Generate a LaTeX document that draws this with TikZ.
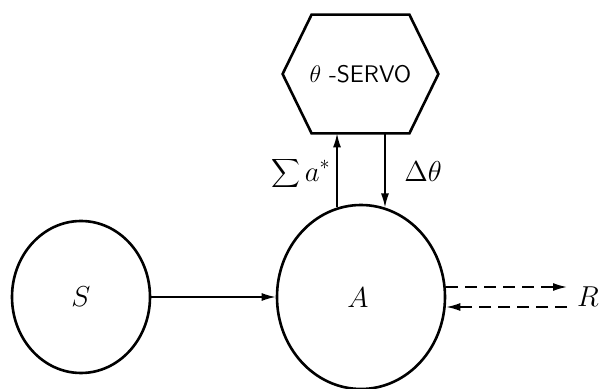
\documentclass[tikz,border=0pt]{standalone}
\usetikzlibrary{arrows.meta,calc,shapes.geometric}
\begin{document}
\begin{tikzpicture}[x=0.5pt,y=-0.5pt,
  blob/.style={draw,ellipse,line width=1.3pt,inner sep=0pt},
  arr/.style={line width=0.8pt,-{Latex[length=7pt,width=4pt]}},
  darr/.style={line width=0.8pt,dash pattern=on 6pt off 3.5pt,-{Latex[length=7pt,width=4pt]}},
  lbl/.style={font=\Large}]
\useasboundingbox (0,0) rectangle (600,389);
\node[blob,minimum width=69pt,minimum height=76pt] (S) at (81,297) {\Large$S$};
\node[blob,minimum width=84pt,minimum height=92pt] (A) at (361,297) {};
\node[lbl] (Alab) at (358,298) {$A$};
\node[minimum width=77.5pt,minimum height=59pt,inner sep=0pt] (servo) at (360.5,74) {\sffamily\large$\theta$ -SERVO};
\draw[line width=1.3pt,line join=miter] (servo.west) -- ([xshift=14.5pt]servo.north west) -- ([xshift=-14.5pt]servo.north east) -- (servo.east) -- ([xshift=-14.5pt]servo.south east) -- ([xshift=14.5pt]servo.south west) -- cycle;
\draw[arr] (S.east) -- (A.west);
\draw[arr] (A.105) -- (A.105 |- servo.south);
\draw[arr] (A.75 |- servo.south) -- (A.75);
\node[lbl] (sum) at (301,174) {$\displaystyle\sum a^{*}$};
\node[lbl] (dth) at (423,172) {$\Delta\theta$};
\node[lbl] (R) at (588,297) {$R$};
\coordinate (rtop) at (567,287);
\coordinate (rbot) at (567,307);
\draw[darr] ([yshift=5pt]A.east) -- (rtop);
\draw[darr] (rbot) -- ([yshift=-5pt]A.east);
\end{tikzpicture}
\end{document}
